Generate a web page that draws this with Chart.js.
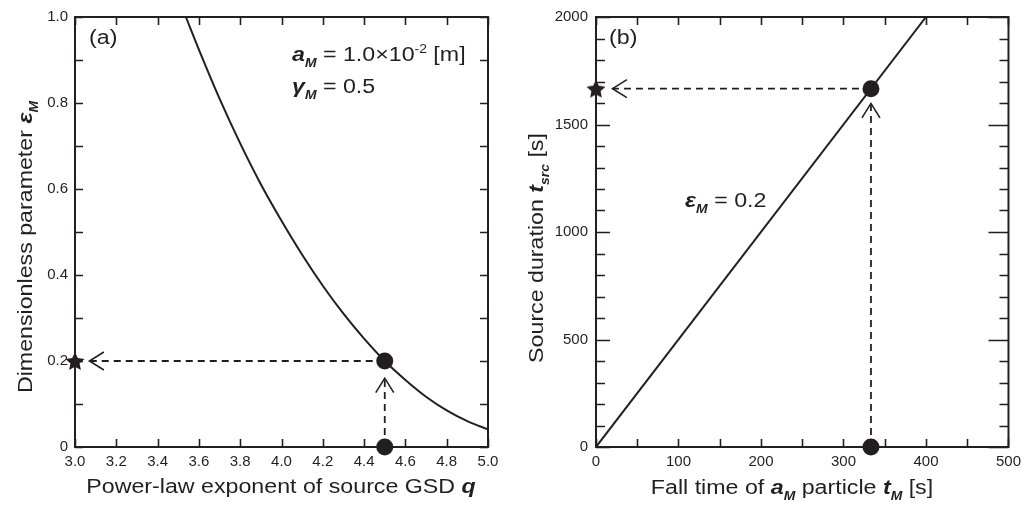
<!DOCTYPE html>
<html>
<head>
<meta charset="utf-8">
<script src="https://cdn.jsdelivr.net/npm/chart.js@4.4.1/dist/chart.umd.min.js"></script>
<style>
  html, body { margin: 0; padding: 0; background: #ffffff; }
  #wrap { position: relative; width: 1027px; height: 509px; overflow: hidden; }
  .panel { position: absolute; top: 0; height: 509px; }
  #pa { left: 0; width: 513px; }
  #pb { left: 513px; width: 514px; }
  canvas { display: block; }
</style>
</head>
<body>
<div id="wrap">
  <div class="panel" id="pa"><canvas id="ca" width="513" height="509"></canvas></div>
  <div class="panel" id="pb"><canvas id="cb" width="514" height="509"></canvas></div>
</div>
<script>
// ---- Panel (a): dimensionless parameter eps_M versus power-law exponent q ----
const qValues   = [3.537, 3.6, 3.7, 3.8, 3.9, 4.0, 4.1, 4.2, 4.3, 4.4, 4.5, 4.6, 4.7, 4.8, 4.9, 5.0];
const epsValues = [1.0, 0.924, 0.81, 0.706, 0.611, 0.526, 0.447, 0.375, 0.31, 0.252, 0.2, 0.156, 0.117, 0.085, 0.06, 0.041];
const qTickLabels   = ['3.0', '3.2', '3.4', '3.6', '3.8', '4.0', '4.2', '4.4', '4.6', '4.8', '5.0'];
const epsTickLabels = ['0', '0.2', '0.4', '0.6', '0.8', '1.0'];

// chosen exponent and resulting eps_M
const qChosen = 4.5;
const epsChosen = 0.2;
// where the dashed guides end (arrow tips)
const qArrowTip = 3.07;
const epsArrowTip = 0.16;

// ---- Panel (b): source duration versus fall time, for eps_M = 0.2 ----
const tFallLine = [0, 400];
const tSrcLine  = [0, 2000];
const tFallTickLabels = ['0', '100', '200', '300', '400', '500'];
const tSrcTickLabels  = ['0', '500', '1000', '1500', '2000'];

const tFallChosen = 333.3;
const tSrcChosen  = 1666.7;
const tFallArrowTip = 20;
const tSrcArrowTip  = 1598;

// ---- drawing helpers ----
const INK = '#231f20';
const FAM = '"Liberation Sans", Arial, Helvetica, sans-serif';
const WIDE = 1.16;   // horizontal stretch of the label lettering

function fontFor(kind, size) {
  const bi = kind === 'bi' || kind === 'sub';
  const small = kind === 'sub' || kind === 'sup';
  const s = small ? Math.round(size * 0.62) : size;
  return (bi ? 'italic bold ' : '') + s + 'px ' + FAM;
}
function richWidth(ctx, parts, size) {
  let w = 0;
  for (const [t, k] of parts) { ctx.font = fontFor(k, size); w += ctx.measureText(t).width; }
  return w;
}
// parts: [text, kind] with kind 'r' regular, 'bi' bold italic, 'sub' subscript, 'sup' superscript
function drawRich(ctx, parts, x, y, size, opts = {}) {
  ctx.save();
  ctx.translate(x, y);
  if (opts.rotate) ctx.rotate(opts.rotate);
  ctx.scale(opts.sx || WIDE, 1);
  let cx = opts.align === 'center' ? -richWidth(ctx, parts, size) / 2 : 0;
  ctx.fillStyle = INK;
  ctx.textBaseline = 'alphabetic';
  ctx.textAlign = 'left';
  for (const [t, k] of parts) {
    ctx.font = fontFor(k, size);
    const dy = k === 'sub' ? size * 0.28 : (k === 'sup' ? -size * 0.42 : 0);
    ctx.fillText(t, cx, dy);
    cx += ctx.measureText(t).width;
  }
  ctx.restore();
}

function makeStar(r) {
  const s = Math.ceil(r * 2 + 2);
  const c = document.createElement('canvas');
  c.width = c.height = s;
  const g = c.getContext('2d');
  g.fillStyle = INK;
  g.beginPath();
  for (let i = 0; i < 10; i++) {
    const rad = i % 2 ? r * 0.48 : r;
    const a = -Math.PI / 2 + i * Math.PI / 5;
    g.lineTo(s / 2 + rad * Math.cos(a), s / 2 + 1 + rad * Math.sin(a));
  }
  g.closePath();
  g.fill();
  return c;
}
const starImg = makeStar(10);

function labelFrom(list) {
  return (v) => {
    const hit = list.find(l => Math.abs(parseFloat(l) - v) < 1e-6);
    return hit === undefined ? '' : hit;
  };
}

function axis(min, max, step, labels, pad, fit) {
  return {
    type: 'linear', min, max,
    grid: { display: false, drawTicks: false },
    border: { display: false },
    ticks: {
      stepSize: step, padding: pad, color: INK, autoSkip: false, maxRotation: 0,
      font: { family: FAM, size: 15 },
      callback: labelFrom(labels)
    },
    afterFit: fit
  };
}

// frame + inward tick marks, drawn under the data
function framePlugin(spec) {
  return {
    id: 'frame',
    beforeDatasetsDraw(chart) {
      const { ctx, chartArea: a, scales: { x, y } } = chart;
      ctx.save();
      ctx.strokeStyle = INK;
      ctx.lineWidth = 1.6;
      ctx.beginPath();
      for (let v = spec.xMin; v <= spec.xMax + 1e-9; v += spec.xStep) {
        const px = Math.round(x.getPixelForValue(v)) + 0.5;
        ctx.moveTo(px, a.bottom); ctx.lineTo(px, a.bottom - spec.xLen);
        ctx.moveTo(px, a.top);    ctx.lineTo(px, a.top + spec.xLen);
      }
      for (let v = spec.yMin; v <= spec.yMax + 1e-9; v += spec.yStep) {
        const py = Math.round(y.getPixelForValue(v)) + 0.5;
        const major = spec.yMajor && Math.abs(v / spec.yMajor - Math.round(v / spec.yMajor)) < 1e-6;
        const l = major ? spec.yLenMajorL : spec.yLen;
        const r = major ? spec.yLenMajorR : spec.yLen;
        ctx.moveTo(a.left, py);  ctx.lineTo(a.left + l, py);
        ctx.moveTo(a.right, py); ctx.lineTo(a.right - r, py);
      }
      ctx.stroke();
      ctx.lineWidth = 2;
      ctx.strokeRect(a.left, a.top, a.right - a.left, a.bottom - a.top);
      ctx.restore();
    }
  };
}

// open chevron arrowheads at the tips of the dashed guides
function arrowPlugin(tips) {
  return {
    id: 'arrows',
    afterDatasetsDraw(chart) {
      const { ctx, scales: { x, y } } = chart;
      ctx.save();
      ctx.strokeStyle = INK;
      ctx.lineWidth = 1.6;
      ctx.lineJoin = 'miter';
      for (const t of tips) {
        const px = x.getPixelForValue(t.x), py = y.getPixelForValue(t.y);
        const L = 17, ang = 32 * Math.PI / 180;
        const back = t.dir + Math.PI;
        ctx.beginPath();
        ctx.moveTo(px + L * Math.cos(back - ang), py + L * Math.sin(back - ang));
        ctx.lineTo(px, py);
        ctx.lineTo(px + L * Math.cos(back + ang), py + L * Math.sin(back + ang));
        ctx.stroke();
      }
      ctx.restore();
    }
  };
}

function textPlugin(drawFn) {
  return { id: 'texts', afterDraw(chart) { drawFn(chart.ctx, chart); } };
}

const lineStyle = { showLine: true, borderColor: INK, borderWidth: 2, pointRadius: 0, fill: false, order: 2 };
const dashStyle = { showLine: true, borderColor: INK, borderWidth: 1.8, borderDash: [7, 5], pointRadius: 0, fill: false, order: 3 };
const dotStyle  = { showLine: false, pointRadius: 8.5, pointBackgroundColor: INK, pointBorderColor: INK, pointBorderWidth: 0, clip: false, order: 0 };
const starStyle = { showLine: false, pointStyle: starImg, pointRadius: 10, clip: false, order: 0 };

const common = {
  responsive: false, animation: false, events: [],
  plugins: { legend: { display: false }, tooltip: { enabled: false } }
};

// ---- chart (a) ----
new Chart(document.getElementById('ca'), {
  type: 'scatter',
  data: {
    datasets: [
      Object.assign({ data: qValues.map((q, i) => ({ x: q, y: epsValues[i] })), cubicInterpolationMode: 'monotone' }, lineStyle),
      Object.assign({ data: [{ x: qChosen, y: epsChosen }, { x: qArrowTip, y: epsChosen }] }, dashStyle),
      Object.assign({ data: [{ x: qChosen, y: 0 }, { x: qChosen, y: epsArrowTip }] }, dashStyle),
      Object.assign({ data: [{ x: qChosen, y: epsChosen }, { x: qChosen, y: 0 }] }, dotStyle),
      Object.assign({ data: [{ x: 3.0, y: epsChosen }] }, starStyle)
    ]
  },
  options: Object.assign({}, common, {
    layout: { padding: { top: 17, right: 25, bottom: 0, left: 0 } },
    scales: {
      x: axis(3, 5, 0.2, qTickLabels, 6, s => { s.height = 62; }),
      y: axis(0, 1, 0.2, epsTickLabels, 7, s => { s.width = 75; })
    }
  }),
  plugins: [
    framePlugin({ xMin: 3, xMax: 5, xStep: 0.2, xLen: 8, yMin: 0, yMax: 1, yStep: 0.1, yLen: 8 }),
    arrowPlugin([
      { x: qArrowTip, y: epsChosen, dir: Math.PI },
      { x: qChosen, y: epsArrowTip, dir: -Math.PI / 2 }
    ]),
    textPlugin((ctx) => {
      drawRich(ctx, [['(a)', 'r']], 89, 44, 20);
      drawRich(ctx, [['a', 'bi'], ['M', 'sub'], [' = 1.0\u00d710', 'r'], ['-2', 'sup'], [' [m]', 'r']], 292, 61, 20);
      drawRich(ctx, [['\u03b3', 'bi'], ['M', 'sub'], [' = 0.5', 'r']], 292, 93, 20);
      drawRich(ctx, [['Power-law exponent of source GSD ', 'r'], ['q', 'bi']], 281, 493, 20, { align: 'center' });
      drawRich(ctx, [['Dimensionless parameter ', 'r'], ['\u03b5', 'bi'], ['M', 'sub']], 32, 247, 20, { rotate: -Math.PI / 2, align: 'center' });
    })
  ]
});

// ---- chart (b) ----
new Chart(document.getElementById('cb'), {
  type: 'scatter',
  data: {
    datasets: [
      Object.assign({ data: tFallLine.map((t, i) => ({ x: t, y: tSrcLine[i] })) }, lineStyle),
      Object.assign({ data: [{ x: tFallChosen, y: tSrcChosen }, { x: tFallArrowTip, y: tSrcChosen }] }, dashStyle),
      Object.assign({ data: [{ x: tFallChosen, y: 0 }, { x: tFallChosen, y: tSrcArrowTip }] }, dashStyle),
      Object.assign({ data: [{ x: tFallChosen, y: tSrcChosen }, { x: tFallChosen, y: 0 }] }, dotStyle),
      Object.assign({ data: [{ x: 0, y: tSrcChosen }] }, starStyle)
    ]
  },
  options: Object.assign({}, common, {
    layout: { padding: { top: 17, right: 17, bottom: 0, left: 0 } },
    scales: {
      x: axis(0, 500, 100, tFallTickLabels, 6, s => { s.height = 62; }),
      y: axis(0, 2000, 500, tSrcTickLabels, 8, s => { s.width = 83; })
    }
  }),
  plugins: [
    framePlugin({ xMin: 0, xMax: 500, xStep: 50, xLen: 8, yMin: 0, yMax: 2000, yStep: 100, yLen: 9, yMajor: 500, yLenMajorL: 14, yLenMajorR: 20 }),
    arrowPlugin([
      { x: tFallArrowTip, y: tSrcChosen, dir: Math.PI },
      { x: tFallChosen, y: tSrcArrowTip, dir: -Math.PI / 2 }
    ]),
    textPlugin((ctx) => {
      drawRich(ctx, [['(b)', 'r']], 96, 44, 20);
      drawRich(ctx, [['\u03b5', 'bi'], ['M', 'sub'], [' = 0.2', 'r']], 172, 207, 20);
      drawRich(ctx, [['Fall time of ', 'r'], ['a', 'bi'], ['M', 'sub'], [' particle ', 'r'], ['t', 'bi'], ['M', 'sub'], [' [s]', 'r']], 279, 494, 20, { align: 'center' });
      drawRich(ctx, [['Source duration ', 'r'], ['t', 'bi'], ['src', 'sub'], [' [s]', 'r']], 30, 248, 20, { rotate: -Math.PI / 2, align: 'center' });
    })
  ]
});
</script>
</body>
</html>
